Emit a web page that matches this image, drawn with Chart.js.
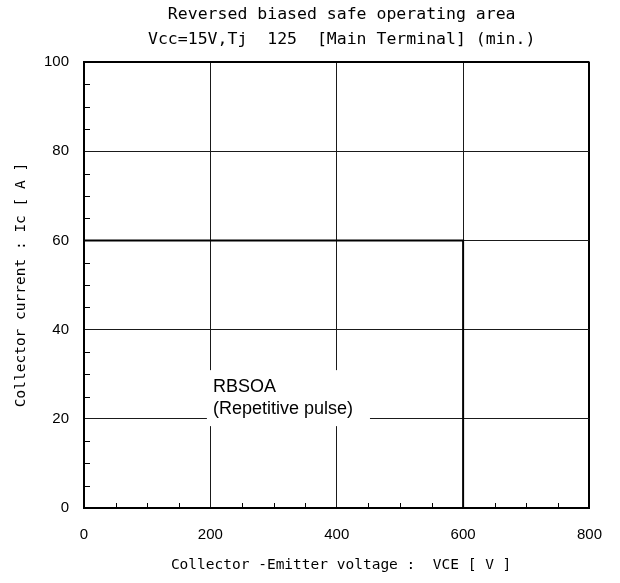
<!DOCTYPE html>
<html>
<head>
<meta charset="utf-8">
<script src="https://cdn.jsdelivr.net/npm/chart.js@4"></script>
<style>
  html, body { margin: 0; padding: 0; background: #fff; }
  #wrap { width: 620px; height: 583px; }
</style>
</head>
<body>
<div id="wrap"><canvas id="rbsoaChart" width="620" height="583"></canvas></div>
<script>
// chart text
const titleLines = [' Reversed biased safe operating area', ' Vcc=15V,Tj  125  [Main Terminal] (min.)'];
const xTitle = ' Collector -Emitter voltage :  VCE [ V ]';
const yTitle = 'Collector current : Ic [ A ]';

// axis ranges / tick steps
const xRange = [0, 800];
const yRange = [0, 100];
const xMajor = 200, xMinor = 50;
const yMajor = 20, yMinor = 5;

// RBSOA boundary (V, A)
const rbsoaV = [0, 600, 600];
const rbsoaIc = [60, 60, 0];

// label inside the plot, anchored at (V, A)
const labelLines = ['RBSOA', '(Repetitive pulse)'];
const labelAt = [204, 27.1];

const monoFont = 'DejaVu Sans Mono';
const sansFont = 'Liberation Sans';

function gridColor(v, major, max) {
    if (v === max) return '#000';
    return v % major === 0 && v !== 0 ? '#1a1a1a' : 'rgba(0,0,0,0)';
}

// short inward ticks for the minor steps
const minorTicks = {
    id: 'minorTicks',
    afterDraw(chart) {
        const { ctx, chartArea: a, scales: { x, y } } = chart;
        ctx.save();
        ctx.strokeStyle = '#000';
        ctx.lineWidth = 1;
        ctx.beginPath();
        x.ticks.forEach(t => {
            if (t.value % xMajor === 0) return;
            const px = Math.round(x.getPixelForValue(t.value)) + 0.5;
            ctx.moveTo(px, a.bottom);
            ctx.lineTo(px, a.bottom - 5);
        });
        y.ticks.forEach(t => {
            if (t.value % yMajor === 0) return;
            const py = Math.round(y.getPixelForValue(t.value)) + 0.5;
            ctx.moveTo(a.left, py);
            ctx.lineTo(a.left + 6, py);
        });
        ctx.stroke();
        ctx.restore();
    }
};

// text label with a white box behind it
const rbsoaLabel = {
    id: 'rbsoaLabel',
    beforeDatasetsDraw(chart) {
        const { ctx, scales: { x, y } } = chart;
        const px = x.getPixelForValue(labelAt[0]);
        const py = y.getPixelForValue(labelAt[1]);
        const lh = 22;
        ctx.save();
        ctx.font = '18px "' + sansFont + '"';
        const w = Math.max(...labelLines.map(s => ctx.measureText(s).width));
        ctx.fillStyle = '#fff';
        ctx.fillRect(px - 6, py - 17, w + 23, lh * (labelLines.length - 1) + 34);
        ctx.fillStyle = '#000';
        ctx.textBaseline = 'middle';
        labelLines.forEach((s, i) => ctx.fillText(s, px, py + i * lh));
        ctx.restore();
    }
};

const ctx = document.getElementById('rbsoaChart').getContext('2d');
const rbsoaChart = new Chart(ctx, {
    type: 'scatter',
    data: {
        datasets: [{
            label: 'RBSOA',
            data: rbsoaV.map((v, i) => ({ x: v, y: rbsoaIc[i] })),
            showLine: true,
            borderColor: '#000',
            borderWidth: 2,
            pointRadius: 0,
            fill: false,
            tension: 0
        }]
    },
    options: {
        responsive: false,
        animation: false,
        layout: { padding: { left: 0, right: 30, top: 0, bottom: 0 } },
        plugins: {
            legend: { display: false },
            tooltip: { enabled: false },
            title: {
                display: true,
                fullSize: false,
                text: titleLines,
                color: '#000',
                font: { family: monoFont, size: 16.5, weight: 'normal', lineHeight: 25 / 16.5 },
                padding: { top: 2.5, bottom: 9.5 }
            }
        },
        scales: {
            x: {
                type: 'linear',
                min: xRange[0],
                max: xRange[1],
                afterFit: s => { s.height = 75; },
                ticks: {
                    stepSize: xMinor,
                    autoSkip: false,
                    maxRotation: 0,
                    padding: 18,
                    color: '#000',
                    font: { family: sansFont, size: 15 },
                    callback: v => v % xMajor === 0 ? v : ''
                },
                grid: {
                    drawTicks: false,
                    color: c => gridColor(c.tick.value, xMajor, xRange[1]),
                    lineWidth: c => c.tick.value === xRange[1] ? 2 : 1
                },
                border: { color: '#000', width: 2 },
                title: {
                    display: true,
                    text: xTitle,
                    color: '#000',
                    font: { family: monoFont, size: 14.5 },
                    padding: { top: 0, bottom: 9 }
                }
            },
            y: {
                type: 'linear',
                min: yRange[0],
                max: yRange[1],
                afterFit: s => { s.width = 84; },
                ticks: {
                    stepSize: yMinor,
                    autoSkip: false,
                    padding: 15,
                    color: '#000',
                    font: { family: sansFont, size: 15 },
                    callback: v => v % yMajor === 0 ? v : ''
                },
                grid: {
                    drawTicks: false,
                    color: c => gridColor(c.tick.value, yMajor, yRange[1]),
                    lineWidth: c => c.tick.value === yRange[1] ? 2 : 1
                },
                border: { color: '#000', width: 2 },
                title: {
                    display: true,
                    text: yTitle,
                    color: '#000',
                    font: { family: monoFont, size: 14.5 },
                    padding: { top: 13, bottom: 0 }
                }
            }
        }
    },
    plugins: [rbsoaLabel, minorTicks]
});
</script>
</body>
</html>
